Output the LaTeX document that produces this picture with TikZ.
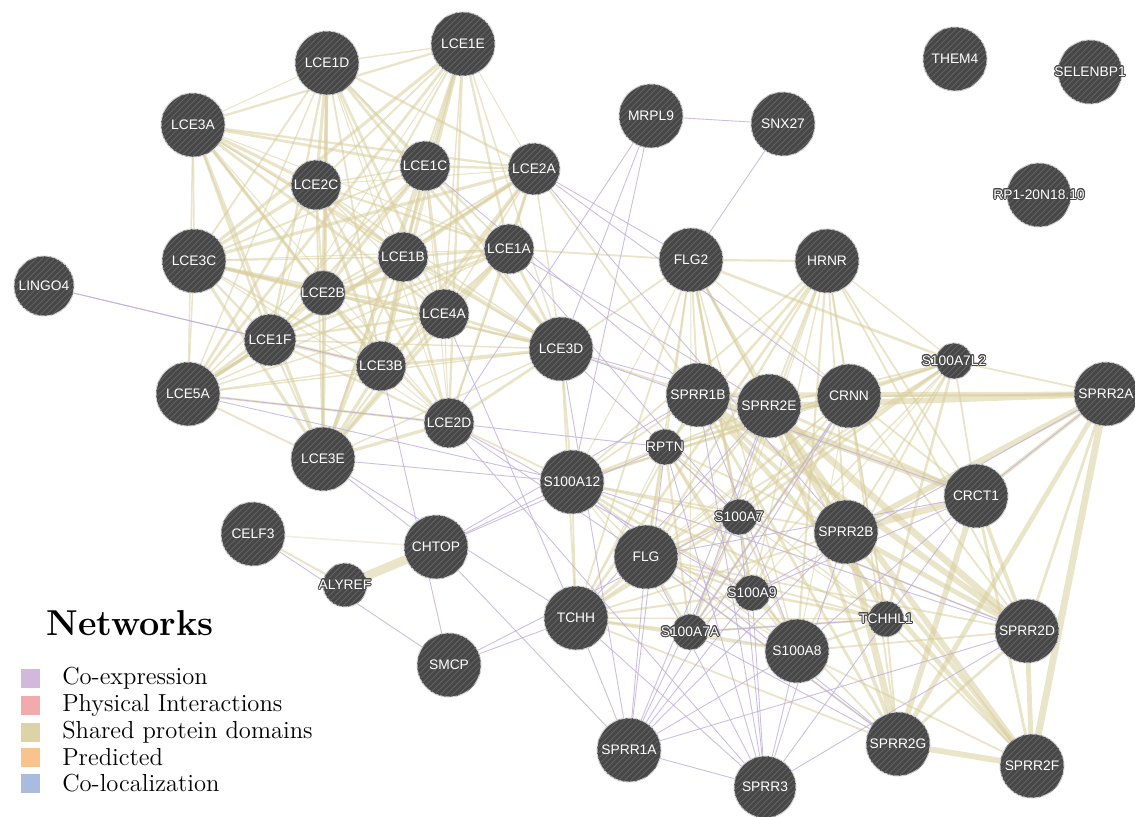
\documentclass[tikz,border=0pt]{standalone}
\usepackage{fontspec}
\usepackage{contour}
\newfontfamily\genefont{Liberation Sans}
\usetikzlibrary{positioning,backgrounds,patterns}
\definecolor{nodegray}{HTML}{474747}
\definecolor{shared}{HTML}{D8CD9C}
\definecolor{coexp}{HTML}{BFAEDB}
\definecolor{coexpbox}{HTML}{C9ABD6}
\definecolor{physbox}{HTML}{EE9C9F}
\definecolor{sharedbox}{HTML}{D6CB98}
\definecolor{predbox}{HTML}{F8B87A}
\definecolor{colocbox}{HTML}{9CAFD9}
\contourlength{0.45pt}
\newcommand{\halo}[1]{\contour{nodegray}{#1}}

\begin{document}
\begin{tikzpicture}
   [x=0.5pt,y=-0.5pt,
      gene/.style={shape=circle,draw=white!82!black,line width=.5pt,fill=nodegray,
      postaction={pattern=north east lines,pattern color=white!14!nodegray},
      minimum size=32pt,inner sep=0pt,text=white,
      font=\genefont\fontsize{6.9}{8}\selectfont},
midgene/.style={gene,minimum size=25pt},
smallgene/.style={gene,minimum size=18pt},
glbl/.style={text=white,inner sep=0pt,font=\genefont\fontsize{6.9}{8}\selectfont},
sedge/.style={shared,opacity=.55,line cap=round},
cedge/.style={coexp,line width=.45pt,opacity=.8},
legbox/.style={minimum size=9.5pt,inner sep=0pt,opacity=.85},
legtxt/.style={inner sep=0pt,font=\fontsize{12.3}{14}\selectfont}]
\useasboundingbox (0,0) rectangle (1135,817);
%%
%% LCE cluster
\node (LCE1D) [gene] at (327,63) {LCE1D};
\node (LCE1E) [gene] at (463,44) {LCE1E};
\node (LCE3A) [gene] at (193,125) {LCE3A};
\node (LCE2C) [midgene] at (316,185) {LCE2C};
\node (LCE1C) [midgene] at (425,166) {LCE1C};
\node (LCE2A) [midgene,minimum size=26pt] at (534,169) {LCE2A};
\node (LCE3C) [gene] at (194,261) {LCE3C};
\node (LCE1B) [midgene] at (403,257) {LCE1B};
\node (LCE1A) [midgene] at (509,249) {LCE1A};
\node (LINGO4) [gene,minimum size=30pt] at (44,286) {LINGO4};
\node (LCE2B) [midgene,minimum size=22pt] at (323,293) {LCE2B};
\node (LCE4A) [midgene] at (444,314) {LCE4A};
\node (LCE1F) [midgene,minimum size=26pt] at (270,340) {LCE1F};
\node (LCE3B) [midgene] at (381,366) {LCE3B};
\node (LCE5A) [gene] at (188,394) {LCE5A};
\node (LCE2D) [midgene] at (449,423) {LCE2D};
\node (LCE3E) [gene] at (323,459) {LCE3E};
\node (LCE3D) [gene] at (561,349) {LCE3D};
%%
\node (CELF3) [gene] at (253,534) {CELF3};
\node (CHTOP) [gene] at (436,547) {CHTOP};
\node (ALYREF) [midgene,minimum size=22pt,label={[glbl]center:\halo{ALYREF}}] at (345,585) {};
\node (SMCP) [gene] at (449,665) {SMCP};
%%
\node (MRPL9) [gene] at (651,116) {MRPL9};
\node (SNX27) [gene] at (783,124) {SNX27};
\node (THEM4) [gene] at (955,59) {THEM4};
\node (SELENBP1) [gene,label={[glbl]center:\halo{SELENBP1}}] at (1090,72) {};
\node (RP1) [gene,label={[glbl]center:\halo{RP1-20N18.10}}] at (1039,195) {};
%%
%% SPRR / S100 cluster
\node (FLG2) [gene] at (691,260) {FLG2};
\node (HRNR) [gene] at (827,261) {HRNR};
\node (S100A7L2) [smallgene,label={[glbl]center:\halo{S100A7L2}}] at (954,361) {};
\node (SPRR2A) [gene] at (1106,394) {SPRR2A};
\node (SPRR1B) [gene] at (698,395) {SPRR1B};
\node (SPRR2E) [gene] at (769,406) {SPRR2E};
\node (CRNN) [gene] at (849,396) {CRNN};
\node (RPTN) [smallgene,label={[glbl]center:\halo{RPTN}}] at (665,447) {};
\node (S100A12) [gene] at (572,482) {S100A12};
\node (CRCT1) [gene] at (976,496) {CRCT1};
\node (S100A7) [smallgene,label={[glbl]center:\halo{S100A7}}] at (739,517) {};
\node (SPRR2B) [gene] at (846,532) {SPRR2B};
\node (FLG) [gene] at (646,557) {FLG};
\node (S100A9) [smallgene,label={[glbl]center:\halo{S100A9}}] at (752,593) {};
\node (TCHH) [gene] at (576,618) {TCHH};
\node (S100A7A) [smallgene,label={[glbl]center:\halo{S100A7A}}] at (690,632) {};
\node (TCHHL1) [smallgene,label={[glbl]center:\halo{TCHHL1}}] at (886,619) {};
\node (SPRR2D) [gene] at (1027,631) {SPRR2D};
\node (S100A8) [gene] at (797,651) {S100A8};
\node (SPRR1A) [gene] at (629,750) {SPRR1A};
\node (SPRR2G) [gene] at (898,744) {SPRR2G};
\node (SPRR3) [gene,minimum size=31pt] at (765,787) {SPRR3};
\node (SPRR2F) [gene] at (1032,766) {SPRR2F};
%%
%% edges
\begin{scope}[on background layer]
\def\lcelist{LCE1D,LCE1E,LCE3A,LCE2C,LCE1C,LCE2A,LCE3C,LCE1B,LCE1A,LCE2B,LCE4A,LCE1F,LCE3B,LCE5A,LCE2D,LCE3E,LCE3D}
\def\fusedlist{FLG2,HRNR,CRNN,S100A7L2,RPTN,S100A12,S100A7,FLG,S100A9,TCHH,S100A7A,TCHHL1,S100A8}
\def\sprrlist{SPRR1B,SPRR2E,SPRR2A,CRCT1,SPRR2B,SPRR2D,SPRR2G,SPRR2F}
\foreach \a [count=\i] in \lcelist {
  \foreach \b [count=\j] in \lcelist {
    \ifnum\j>\i
      \pgfmathsetmacro\w{.5+.22*mod(3*\i+5*\j,6)}
      \draw[sedge,line width=\w pt] (\a) -- (\b);
    \fi
  }
}
\foreach \a [count=\i] in \fusedlist {
  \foreach \b [count=\j] in \fusedlist {
    \ifnum\j>\i
      \pgfmathsetmacro\w{.5+.2*mod(2*\i+3*\j,5)}
      \draw[sedge,line width=\w pt] (\a) -- (\b);
    \fi
  }
}
\foreach \a [count=\i] in \sprrlist {
  \foreach \b [count=\j] in \sprrlist {
    \ifnum\j>\i
      \pgfmathsetmacro\w{1.4+.5*mod(\i+2*\j,5)}
      \draw[sedge,line width=\w pt] (\a) -- (\b);
    \fi
  }
}
\foreach \a/\b in {FLG2/SPRR1B,FLG2/SPRR2E,FLG2/SPRR2B,HRNR/SPRR2E,HRNR/SPRR2B,
  HRNR/CRCT1,HRNR/SPRR2D,CRNN/SPRR2A,CRNN/SPRR2D,CRNN/SPRR2G,CRNN/CRCT1,
  S100A7L2/SPRR2A,S100A7L2/SPRR2B,S100A7L2/CRCT1,S100A7L2/SPRR2E,
  S100A12/SPRR1B,S100A12/SPRR2B,FLG/SPRR2E,FLG/SPRR2D,FLG/SPRR2G,
  TCHH/SPRR1B,TCHH/SPRR2B,TCHH/SPRR2G,S100A8/SPRR2D,S100A8/SPRR2F,
  TCHHL1/SPRR2G,TCHHL1/SPRR2F,S100A7/SPRR2D,S100A9/SPRR2G,RPTN/SPRR2B,
  RPTN/SPRR2E,LCE3D/SPRR1B,LCE3D/S100A12,LCE3D/FLG2,LCE1A/FLG2,
  LCE2A/SPRR1B,LCE2D/S100A12,LCE3D/TCHH}
  \draw[sedge,line width=.9pt] (\a) -- (\b);
\draw[sedge,line width=1pt] (CELF3) -- (ALYREF);
\draw[sedge,line width=.8pt,opacity=.35] (CELF3) -- (CHTOP);
\draw[sedge,line width=4.5pt] (ALYREF) -- (CHTOP);
%%
\foreach \a/\b in {LINGO4/LCE1F,LINGO4/LCE3B,MRPL9/SNX27,MRPL9/LCE3D,
  MRPL9/S100A12,MRPL9/LCE2D,SNX27/FLG2,LCE2A/FLG2,LCE2A/SPRR2B,LCE2A/CRNN,
  LCE1A/SPRR2E,LCE1A/S100A7,LCE1C/SPRR1B,LCE3D/SPRR2E,LCE3D/CRCT1,
  LCE3D/S100A7,LCE3D/SPRR1A,LCE2D/FLG,LCE2D/S100A9,LCE2D/SPRR3,
  LCE3E/S100A12,LCE3E/CHTOP,LCE3E/TCHH,LCE5A/S100A12,LCE5A/RPTN,
  LCE3B/SMCP,LCE4A/TCHH,CELF3/SMCP,CHTOP/S100A12,CHTOP/SPRR1B,CHTOP/RPTN,
  CHTOP/SPRR1A,SMCP/TCHH,SMCP/S100A7,SPRR1A/S100A8,SPRR1A/S100A9,
  SPRR1A/S100A7,SPRR1A/SPRR2B,SPRR1A/CRNN,SPRR1A/SPRR2D,SPRR1A/FLG,
  SPRR1A/SPRR2E,SPRR1A/RPTN,SPRR1A/SPRR3,SPRR1A/TCHH,SPRR3/S100A8,
  SPRR3/S100A7,SPRR3/S100A9,SPRR3/SPRR2B,SPRR3/TCHH,SPRR3/SPRR2D,SPRR3/FLG,
  SPRR3/CRCT1,SPRR3/RPTN,SPRR3/SPRR1B,S100A8/CRCT1,S100A9/CRCT1,
  S100A7/SPRR2D,S100A12/SPRR2D,SPRR2G/S100A12,SPRR2G/FLG,SPRR2G/S100A7A,
  SPRR2A/S100A9,SPRR2A/CRCT1,CRNN/S100A7A,SPRR1B/S100A8,SPRR2E/TCHH,
  SPRR2E/S100A7A,FLG/CRCT1,TCHHL1/S100A7A}
  \draw[cedge] (\a) -- (\b);
\end{scope}
%%
%% legend
\node (title) [anchor=west,inner sep=0pt,font=\fontsize{18}{21}\selectfont\bfseries] at (46,623) {Networks};
\node (leg1) [legbox,fill=coexpbox] at (30,678) {};
\node (leg2) [legbox,fill=physbox] at (30,705) {};
\node (leg3) [legbox,fill=sharedbox] at (30,732) {};
\node (leg4) [legbox,fill=predbox] at (30,757) {};
\node (leg5) [legbox,fill=colocbox] at (30,783) {};
\node [legtxt,right=11pt of leg1] {Co-expression};
\node [legtxt,right=11pt of leg2] {Physical Interactions};
\node [legtxt,right=11pt of leg3] {Shared protein domains};
\node [legtxt,right=11pt of leg4] {Predicted};
\node [legtxt,right=11pt of leg5] {Co-localization};
\end{tikzpicture}
\end{document}
